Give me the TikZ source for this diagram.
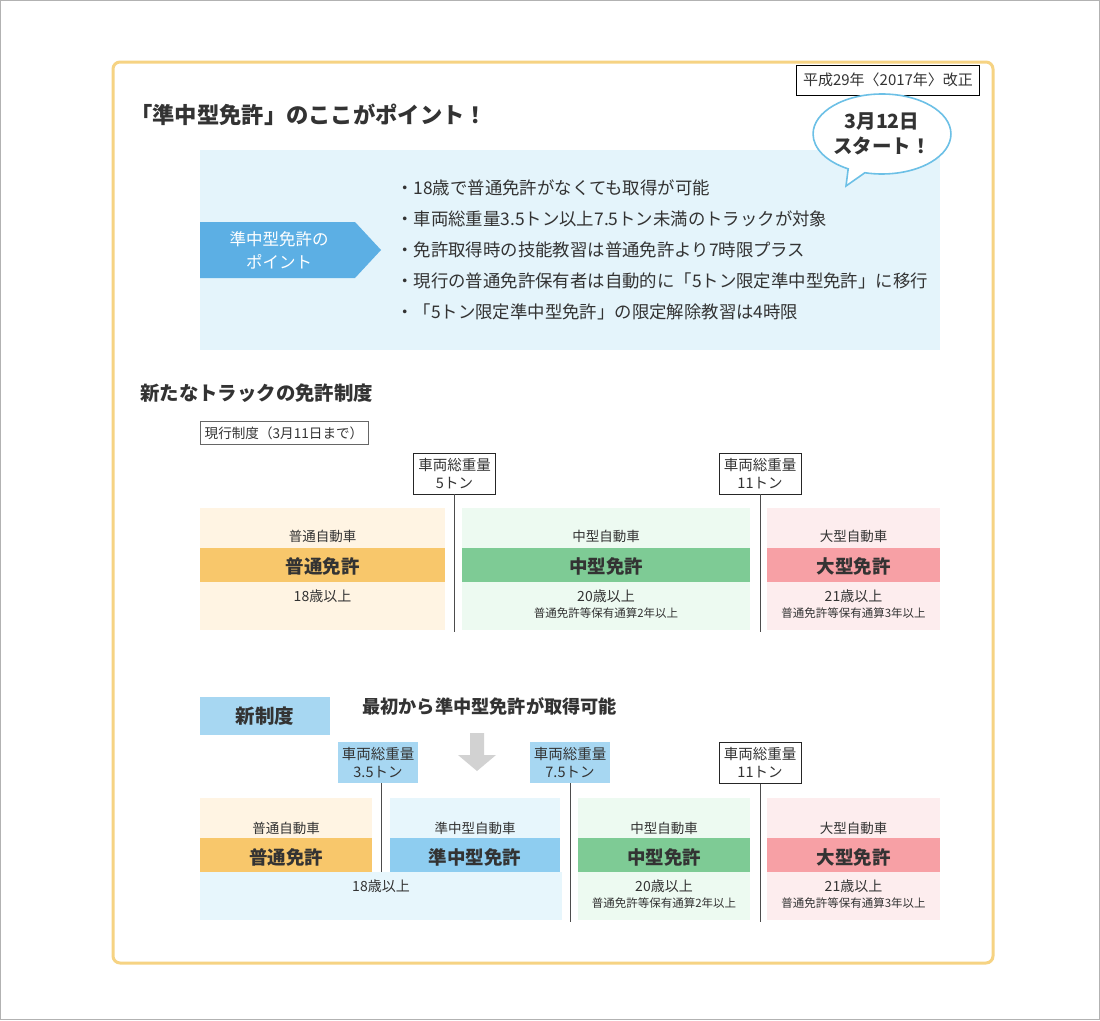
\documentclass[tikz,border=0pt]{standalone}
\usepackage{fontspec}
\setmainfont{Noto Sans CJK JP}
\usetikzlibrary{shapes.callouts,shapes.geometric}
\definecolor{txt}{HTML}{333333}
\definecolor{framecol}{HTML}{F6D383}
\definecolor{panelblue}{HTML}{E4F4FB}
\definecolor{arrowblue}{HTML}{5CAFE4}
\definecolor{boxblue}{HTML}{A7D7F2}
\definecolor{bandblue}{HTML}{8ECDF0}
\definecolor{lblue}{HTML}{E7F6FC}
\definecolor{bandorange}{HTML}{F8C76B}
\definecolor{lorange}{HTML}{FFF4E3}
\definecolor{bandgreen}{HTML}{7ECB95}
\definecolor{lgreen}{HTML}{EDFAF1}
\definecolor{bandpink}{HTML}{F7A0A5}
\definecolor{lpink}{HTML}{FDEDEE}
\definecolor{bubbleblue}{HTML}{6CC0E6}
\definecolor{arrowgray}{HTML}{D2D2D2}
\tikzset{
  every node/.style={text=txt, inner sep=0pt},
  fs/.style={font=\fontsize{#1}{#1}\selectfont},
  bfs/.style={font=\bfseries\fontsize{#1}{#1}\selectfont},
  wbox/.style={draw=black!85, line width=0.8pt, fill=white, minimum width=82, minimum height=41, align=center, font=\fontsize{14.5}{18}\selectfont},
  wboxblue/.style={fill=boxblue, minimum width=80, minimum height=41, align=center, font=\fontsize{14.5}{18}\selectfont},
  vline/.style={draw=black!70, line width=0.8pt},
  bullet/.style={anchor=west, font=\fontsize{17.4}{20}\selectfont},
}
\begin{document}
\begin{tikzpicture}[x=1pt,y=-1pt]
\useasboundingbox (0,0) rectangle (1100,1020);
\fill[white] (0,0) rectangle (1100,1020);
\draw[black!30] (0.5,0.5) rectangle (1099.5,1019.5);
% frame
\draw[framecol, line width=3pt, rounded corners=7pt] (113,62) rectangle (993,963);
% revision label
\node[draw=black, line width=0.9pt, minimum width=183, minimum height=30, fs=15] (rev) at (888,80) {平成29年〈2017年〉改正};
% title
\node[anchor=west, bfs=22.3] (title) at (130,115) {「準中型免許」のここがポイント！};
% points panel
\fill[panelblue] (200,150) rectangle (940,350);
\fill[arrowblue] (200,222) -- (355,222) -- (381,250) -- (355,278) -- (200,278) -- cycle;
\node[align=center, text=white, font=\fontsize{16.5}{23}\selectfont] (pointlbl) at (279,250) {準中型免許の\\ポイント};
\node[bullet] (b1) at (396,188) {・18歳で普通免許がなくても取得が可能};
\node[bullet] (b2) at (396,219) {・車両総重量3.5トン以上7.5トン未満のトラックが対象};
\node[bullet] (b3) at (396,250) {・免許取得時の技能教習は普通免許より7時限プラス};
\node[bullet] (b4) at (396,281) {・現行の普通免許保有者は自動的に「5トン限定準中型免許」に移行};
\node[bullet] (b5) at (396,312) {・「5トン限定準中型免許」の限定解除教習は4時限};
% bubble
\node[ellipse callout, draw=bubbleblue, line width=1.6pt, fill=white, minimum width=128, minimum height=80, callout absolute pointer={(846,186)}, align=center, font=\bfseries\fontsize{19.5}{25}\selectfont] (bubble) at (882,134) {3月12日\\スタート！};
% section 2
\node[anchor=west, bfs=19.4] (sec2) at (140,393) {新たなトラックの免許制度};
\node[draw=black!60, line width=0.8pt, minimum width=168, minimum height=23, fs=13.6] (cur) at (284,433) {現行制度（3月11日まで）};
% current system weight boxes
\node[wbox] (w5) at (454.5,473.5) {車両総重量\\5トン};
\node[wbox] (w11a) at (760,473.5) {車両総重量\\11トン};
% current row panels
\fill[lorange] (200,508) rectangle (445,630);
\fill[bandorange] (200,548) rectangle (445,582);
\fill[lgreen] (462,508) rectangle (750,630);
\fill[bandgreen] (462,548) rectangle (750,582);
\fill[lpink] (767,508) rectangle (940,630);
\fill[bandpink] (767,548) rectangle (940,582);
\coordinate (e5) at (454.5,632);
\coordinate (e11a) at (760,632);
\draw[vline] (w5.south) -- (e5);
\draw[vline] (w11a.south) -- (e11a);
\node[fs=13.5] (c1a) at (322.5,536) {普通自動車};
\node[bfs=18.5] (c1b) at (322.5,566) {普通免許};
\node[fs=14] (c1c) at (322.5,596) {18歳以上};
\node[fs=13.5] (c2a) at (606,536) {中型自動車};
\node[bfs=18.5] (c2b) at (606,566) {中型免許};
\node[fs=14] (c2c) at (606,596) {20歳以上};
\node[fs=11.5] (c2d) at (606,613) {普通免許等保有通算2年以上};
\node[fs=13.5] (c3a) at (853.5,536) {大型自動車};
\node[bfs=18.5] (c3b) at (853.5,566) {大型免許};
\node[fs=14] (c3c) at (853.5,596) {21歳以上};
\node[fs=11.5] (c3d) at (853.5,613) {普通免許等保有通算3年以上};
% new system
\fill[boxblue] (200,697) rectangle (330,735);
\node[bfs=19.5] (newsys) at (265,716) {新制度};
\node[anchor=west, bfs=18.2] (newnote) at (362,706) {最初から準中型免許が取得可能};
\fill[arrowgray] (470,733) -- (484,733) -- (484,755) -- (496,755) -- (477,771) -- (458,755) -- (470,755) -- cycle;
\node[wboxblue] (w35) at (378,762.5) {車両総重量\\3.5トン};
\node[wboxblue] (w75) at (570,762.5) {車両総重量\\7.5トン};
\node[wbox] (w11b) at (760,763) {車両総重量\\11トン};
% new row panels
\fill[lorange] (200,798) rectangle (372,838);
\fill[bandorange] (200,838) rectangle (372,872);
\fill[lblue] (390,798) rectangle (560,838);
\fill[bandblue] (390,838) rectangle (560,872);
\fill[lblue] (200,872) rectangle (562,920);
\fill[lgreen] (578,798) rectangle (750,920);
\fill[bandgreen] (578,838) rectangle (750,872);
\fill[lpink] (767,798) rectangle (940,920);
\fill[bandpink] (767,838) rectangle (940,872);
\coordinate (e35) at (381,872);
\coordinate (e75) at (570,922);
\coordinate (e11b) at (760,922);
\draw[vline] (w35.south -| e35) -- (e35);
\draw[vline] (w75.south) -- (e75);
\draw[vline] (w11b.south) -- (e11b);
\node[fs=13.5] (n1a) at (286,828) {普通自動車};
\node[bfs=18.5] (n1b) at (286,857) {普通免許};
\node[fs=13.5] (n2a) at (475,828) {準中型自動車};
\node[bfs=18.5] (n2b) at (475,857) {準中型免許};
\node[fs=14] (n12c) at (381,886) {18歳以上};
\node[fs=13.5] (n3a) at (664,828) {中型自動車};
\node[bfs=18.5] (n3b) at (664,857) {中型免許};
\node[fs=14] (n3c) at (664,886) {20歳以上};
\node[fs=11.5] (n3d) at (664,903) {普通免許等保有通算2年以上};
\node[fs=13.5] (n4a) at (853.5,828) {大型自動車};
\node[bfs=18.5] (n4b) at (853.5,857) {大型免許};
\node[fs=14] (n4c) at (853.5,886) {21歳以上};
\node[fs=11.5] (n4d) at (853.5,903) {普通免許等保有通算3年以上};
\end{tikzpicture}
\end{document}
